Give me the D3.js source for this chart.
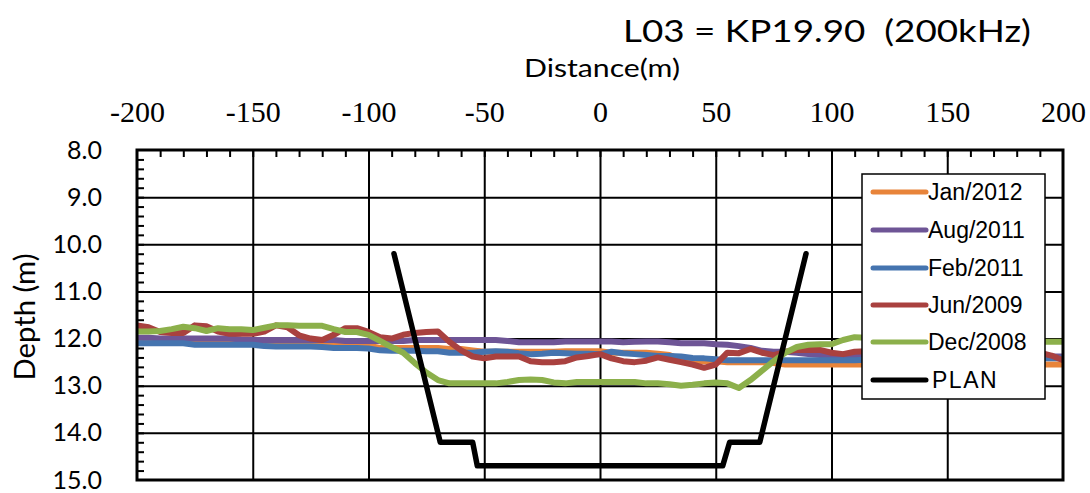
<!DOCTYPE html>
<html>
<head>
<meta charset="utf-8">
<script src="https://cdn.jsdelivr.net/npm/d3@7"></script>
<style>
  html, body { margin: 0; padding: 0; background: #ffffff; }
  svg { display: block; }
  text { white-space: pre; }
</style>
</head>
<body>
<svg id="chart" width="1090" height="493"></svg>
<script>
// Cross-section distances (m) shared by all survey profiles
const distances = [-200,-195,-190,-185,-180,-175,-170,-165,-160,-155,
  -150,-145,-140,-135,-130,-125,-120,-115,-110,-105,
  -100,-95,-90,-85,-80,-75,-70,-65,-60,-55,
  -50,-45,-40,-35,-30,-25,-20,-15,-10,-5,
  0,5,10,15,20,25,30,35,40,45,
  50,55,60,65,70,75,80,85,90,95,
  100,105,110,115,120,125,130,135,140,145,
  150,155,160,165,170,175,180,185,190,195,200];

// Surveyed depths (m) per campaign
const jan2012 = [12.06,12.06,12.06,12.06,12.06,12.06,12.06,12.06,12.06,12.08,
  12.08,12.08,12.08,12.08,12.08,12.08,12.10,12.15,12.15,12.15,
  12.15,12.20,12.20,12.20,12.20,12.20,12.20,12.22,12.22,12.25,
  12.28,12.28,12.28,12.28,12.28,12.28,12.28,12.27,12.27,12.27,
  12.27,12.30,12.30,12.30,12.30,12.32,12.35,12.45,12.47,12.48,
  12.48,12.50,12.50,12.50,12.50,12.52,12.55,12.55,12.55,12.55,
  12.55,12.55,12.55,12.55,12.55,12.55,12.55,12.55,12.55,12.55,
  12.55,12.55,12.55,12.55,12.55,12.55,12.55,12.55,12.55,12.55,12.55];

const aug2011 = [11.98,11.98,12.00,12.00,12.00,12.00,12.00,12.00,12.00,12.02,
  12.03,12.03,12.03,12.03,12.03,12.03,12.03,12.03,12.05,12.05,
  12.05,12.05,12.05,12.05,12.03,12.03,12.03,12.03,12.03,12.03,
  12.03,12.03,12.05,12.08,12.08,12.08,12.08,12.06,12.06,12.06,
  12.06,12.06,12.08,12.07,12.06,12.06,12.08,12.10,12.10,12.10,
  12.12,12.13,12.16,12.20,12.26,12.28,12.28,12.30,12.33,12.35,
  12.35,12.35,12.35,12.35,12.35,12.35,12.36,12.36,12.36,12.36,
  12.37,12.37,12.37,12.37,12.38,12.38,12.38,12.38,12.38,12.38,12.38];

const feb2011 = [12.10,12.10,12.10,12.10,12.10,12.13,12.13,12.13,12.13,12.13,
  12.13,12.16,12.17,12.17,12.17,12.17,12.18,12.20,12.20,12.20,
  12.21,12.25,12.26,12.26,12.26,12.27,12.27,12.30,12.30,12.30,
  12.28,12.27,12.28,12.31,12.33,12.32,12.30,12.31,12.32,12.32,
  12.33,12.28,12.31,12.33,12.35,12.37,12.37,12.38,12.41,12.42,
  12.44,12.46,12.46,12.46,12.46,12.46,12.46,12.46,12.46,12.46,
  12.46,12.46,12.46,12.45,12.45,12.45,12.44,12.44,12.44,12.44,
  12.43,12.43,12.43,12.42,12.42,12.42,12.42,12.42,12.42,12.42,12.42];

const jun2009 = [11.72,11.76,11.86,11.88,11.88,11.72,11.74,11.85,11.90,11.90,
  11.90,11.85,11.72,11.76,11.93,12.00,12.03,11.92,11.78,11.78,
  11.86,11.97,12.00,11.92,11.88,11.86,11.85,12.07,12.25,12.38,
  12.42,12.38,12.38,12.38,12.48,12.50,12.50,12.48,12.40,12.37,
  12.33,12.42,12.48,12.50,12.47,12.40,12.45,12.50,12.55,12.62,
  12.55,12.30,12.31,12.22,12.30,12.35,12.28,12.24,12.24,12.24,
  12.30,12.33,12.28,12.27,12.28,12.30,12.28,12.27,12.28,12.30,
  12.30,12.28,12.27,12.28,12.30,12.30,12.28,12.28,12.30,12.36,12.46];

const dec2008 = [11.85,11.85,11.84,11.80,11.75,11.78,11.84,11.78,11.80,11.80,
  11.82,11.77,11.72,11.72,11.73,11.73,11.73,11.80,11.86,11.86,
  11.92,12.05,12.18,12.30,12.52,12.72,12.88,12.95,12.95,12.95,
  12.95,12.95,12.92,12.88,12.87,12.88,12.93,12.95,12.92,12.92,
  12.92,12.92,12.92,12.92,12.95,12.95,12.97,13.00,12.98,12.95,
  12.93,12.95,13.05,12.88,12.68,12.48,12.30,12.18,12.13,12.12,
  12.12,12.03,11.97,11.98,12.00,12.02,12.02,12.03,12.05,12.05,
  12.06,12.06,12.07,12.07,12.07,12.07,12.07,12.07,12.07,12.07,12.07];

// Design channel profile
const planDistance = [-89,-69,-55,-53,53,56,69,89];
const planDepth = [10.2,14.2,14.2,14.7,14.7,14.2,14.2,10.2];

// Labels
const seriesNames = ["Jan/2012","Aug/2011","Feb/2011","Jun/2009","Dec/2008","PLAN"];
const xTickValues = [-200,-150,-100,-50,0,50,100,150,200];
const yTickValues = [8,9,10,11,12,13,14,15];
const titleText = "L03 = KP19.90  (200kHz)";
const xAxisTitle = "Distance(m)";
const yAxisTitle = "Depth (m)";

// Styling
const seriesColors = ["#E8843A","#6E5596","#4574AF","#A9413F","#8CB04B","#000000"];

const surveys = [jan2012, aug2011, feb2011, jun2009, dec2008];

const svg = d3.select("#chart");
const plot = { left: 137, right: 1063, top: 150, bottom: 480 };

const x = d3.scaleLinear().domain([-200, 200]).range([plot.left, plot.right]);
const y = d3.scaleLinear().domain([8, 15]).range([plot.top, plot.bottom]);

svg.append("rect").attr("width", 1090).attr("height", 493).attr("fill", "#fff");

// Grid lines
const gridX = svg.append("g")
  .attr("transform", `translate(0,${plot.bottom})`)
  .call(d3.axisBottom(x).tickValues(xTickValues.slice(1, -1))
    .tickSize(-(plot.bottom - plot.top)).tickFormat(""));
gridX.select(".domain").remove();
gridX.selectAll("line").attr("stroke", "#000").attr("stroke-width", 2);

const gridY = svg.append("g")
  .attr("transform", `translate(${plot.left},0)`)
  .call(d3.axisLeft(y).tickValues(yTickValues.slice(1, -1))
    .tickSize(-(plot.right - plot.left)).tickFormat(""));
gridY.select(".domain").remove();
gridY.selectAll("line").attr("stroke", "#000").attr("stroke-width", 2);

// Minor ticks (inside the frame)
const minorX = svg.append("g")
  .attr("transform", `translate(0,${plot.top})`)
  .call(d3.axisTop(x).tickValues(d3.range(-190, 200, 10)).tickSize(-7).tickFormat(""));
minorX.select(".domain").remove();
minorX.selectAll("line").attr("stroke", "#000").attr("stroke-width", 2);

const minorY = svg.append("g")
  .attr("transform", `translate(${plot.left},0)`)
  .call(d3.axisLeft(y).tickValues(d3.range(8.2, 15, 0.2)).tickSize(-7).tickFormat(""));
minorY.select(".domain").remove();
minorY.selectAll("line").attr("stroke", "#000").attr("stroke-width", 2);

// Survey lines
const lineGen = d3.line()
  .x(d => x(d[0]))
  .y(d => y(d[1]));

svg.append("defs").append("clipPath").attr("id", "plotClip")
  .append("rect")
  .attr("x", plot.left).attr("y", plot.top)
  .attr("width", plot.right - plot.left).attr("height", plot.bottom - plot.top);

const linesG = svg.append("g").attr("clip-path", "url(#plotClip)");

surveys.forEach((vals, i) => {
  linesG.append("path")
    .datum(distances.map((d, k) => [d, vals[k]]))
    .attr("d", lineGen)
    .attr("fill", "none")
    .attr("stroke", seriesColors[i])
    .attr("stroke-width", 6)
    .attr("stroke-linejoin", "round");
});

linesG.append("path")
  .datum(planDistance.map((d, k) => [d, planDepth[k]]))
  .attr("d", lineGen)
  .attr("fill", "none")
  .attr("stroke", seriesColors[5])
  .attr("stroke-width", 5.5)
  .attr("stroke-linejoin", "round")
  .attr("stroke-linecap", "round");

// Frame
svg.append("rect")
  .attr("x", plot.left).attr("y", plot.top)
  .attr("width", plot.right - plot.left).attr("height", plot.bottom - plot.top)
  .attr("fill", "none").attr("stroke", "#000").attr("stroke-width", 3);

// Top axis labels
const topAxis = svg.append("g")
  .attr("transform", `translate(0,${plot.top})`)
  .call(d3.axisTop(x).tickValues(xTickValues).tickSize(0).tickPadding(28).tickFormat(d3.format("d")));
topAxis.select(".domain").remove();
topAxis.selectAll("text")
  .attr("font-family", "'Liberation Serif', 'DejaVu Serif', serif")
  .attr("font-size", 30)
  .attr("fill", "#000")
  .text(d => String(d).replace("\u2212", "-"));

// Left axis labels
const leftAxis = svg.append("g")
  .attr("transform", `translate(${plot.left},0)`)
  .call(d3.axisLeft(y).tickValues(yTickValues).tickSize(0).tickPadding(35).tickFormat(d3.format(".1f")));
leftAxis.select(".domain").remove();
leftAxis.selectAll("text")
  .attr("font-family", "Lato, 'Open Sans', sans-serif")
  .attr("font-size", 25)
  .attr("fill", "#000");

// Titles, stretched horizontally to their set widths
function fitText(sel, width) {
  const w = sel.node().getComputedTextLength();
  return width / w;
}

const titleG = svg.append("g");
const titleT = titleG.append("text")
  .attr("font-family", "Lato, sans-serif").attr("font-size", 30)
  .attr("text-anchor", "middle").attr("fill", "#000").text(titleText);
titleG.attr("transform", `translate(827,42) scale(${fitText(titleT, 408)},1)`);

const xtG = svg.append("g");
const xtT = xtG.append("text")
  .attr("font-family", "Lato, sans-serif").attr("font-size", 25)
  .attr("text-anchor", "middle").attr("fill", "#000").text(xAxisTitle);
xtG.attr("transform", `translate(602,77) scale(${fitText(xtT, 156)},1)`);

const ytG = svg.append("g");
const ytT = ytG.append("text")
  .attr("font-family", "Lato, sans-serif").attr("font-size", 28)
  .attr("text-anchor", "middle").attr("fill", "#000").text(yAxisTitle);
ytG.attr("transform", `translate(35,317) rotate(-90) scale(${fitText(ytT, 127)},1)`);

// Legend
const legend = svg.append("g");
legend.append("rect")
  .attr("x", 862).attr("y", 174).attr("width", 183).attr("height", 225)
  .attr("fill", "#fff").attr("stroke", "#000").attr("stroke-width", 1.5);

const legendRowY = [192, 230, 268, 305, 342, 380];
seriesNames.forEach((name, i) => {
  legend.append("line")
    .attr("x1", 873).attr("x2", 926)
    .attr("y1", legendRowY[i]).attr("y2", legendRowY[i])
    .attr("stroke", seriesColors[i]).attr("stroke-width", 5)
    .attr("stroke-linecap", "round");
  legend.append("text")
    .attr("x", name === "PLAN" ? 932 : 928)
    .attr("y", legendRowY[i])
    .attr("dy", "0.36em")
    .attr("font-family", "'Liberation Sans', Arial, sans-serif")
    .attr("font-size", 23)
    .attr("letter-spacing", name === "PLAN" ? 1.5 : 0)
    .attr("fill", "#000")
    .text(name);
});
</script>
</body>
</html>
